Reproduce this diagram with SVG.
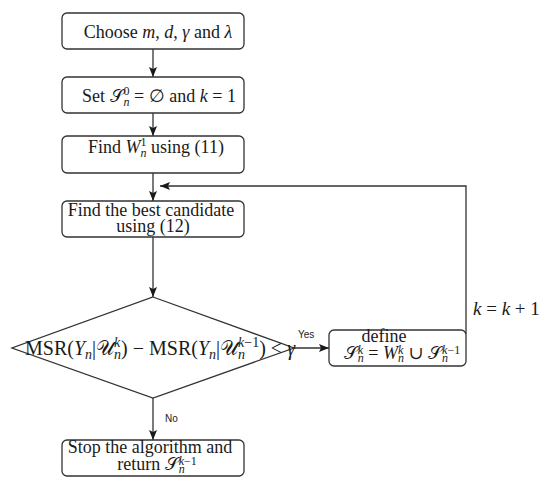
<svg xmlns="http://www.w3.org/2000/svg" width="550" height="487" viewBox="0 0 550 487">
<style>
.t{font-family:"Liberation Serif","DejaVu Serif",serif;font-size:18px;fill:#1a1a1a;text-anchor:middle}
.i{font-style:italic}
.s{font-size:12px}
.s2{font-size:14px}
.scr{font-family:"DejaVu Serif","DejaVu Sans","Noto Sans",serif;font-style:normal}
.lbl{font-family:"Liberation Sans",Arial,sans-serif;font-size:10px;fill:#1a1a1a}
.box{fill:#fff;stroke:#333;stroke-width:1.3}
.edge{fill:none;stroke:#333;stroke-width:1.3;marker-end:url(#ah)}
</style>
<defs>
<marker id="ah" markerWidth="10" markerHeight="8" refX="10" refY="4" orient="auto" markerUnits="userSpaceOnUse">
<path d="M0,0 L10,4 L0,8 L2,4 z" fill="#1a1a1a"/>
</marker>
</defs>
<g id="connectors">
<path class="edge" d="M153,49 L153,77"/>
<path class="edge" d="M153,113 L153,136"/>
<path class="edge" d="M153,173 L153,201"/>
<path class="edge" d="M153,237 L153,297"/>
<path class="edge" d="M294,348 L329,348"/>
<path class="edge" d="M153,398 L153,440"/>
<path class="edge" d="M466,334 L466,186 L160,186"/>
<text class="lbl" x="298" y="338">Yes</text>
<text class="lbl" x="165" y="422">No</text>
<text class="t" x="473" y="315" style="font-size:19px;text-anchor:start"><tspan class="i">k</tspan> = <tspan class="i">k</tspan> + 1</text>
</g>
<g id="choose">
<rect class="box" x="62" y="13" width="182" height="36" rx="5"/>
<text class="t" x="158" y="38">Choose <tspan class="i">m</tspan>, <tspan class="i">d</tspan>, <tspan class="i">γ</tspan> and <tspan class="i">λ</tspan></text>
</g>
<g id="set">
<rect class="box" x="62" y="77" width="182" height="36" rx="5"/>
<text class="t" x="159" y="102">Set <tspan class="scr">𝒮</tspan><tspan class="s" dy="-7">0</tspan><tspan class="s i" dx="-6" dy="11">n</tspan><tspan dy="-4"> = ∅ and </tspan><tspan class="i">k</tspan> = 1</text>
</g>
<g id="find1">
<rect class="box" x="62" y="136" width="182" height="37" rx="5"/>
<text class="t" x="156" y="153">Find <tspan class="i">W</tspan><tspan class="s" dy="-7">1</tspan><tspan class="s i" dx="-6" dy="11">n</tspan><tspan dy="-4"> using (11)</tspan></text>
</g>
<g id="best">
<rect class="box" x="62" y="201" width="182" height="36" rx="5"/>
<text class="t" x="151" y="216">Find the best candidate</text>
<text class="t" x="153" y="232">using (12)</text>
</g>
<g id="decision">
<path class="box" d="M153,297 L294,348 L153,398 L12,348 Z"/>
<text class="t" x="160" y="355" style="font-size:20px">MSR(<tspan class="i">Y</tspan><tspan class="s2 i" dy="4">n</tspan><tspan dy="-4">|</tspan><tspan class="scr">𝒰</tspan><tspan class="s2 i" dy="-8">k</tspan><tspan class="s2 i" dx="-6.2" dy="12">n</tspan><tspan dy="-4">) − MSR(</tspan><tspan class="i">Y</tspan><tspan class="s2 i" dy="4">n</tspan><tspan dy="-4">|</tspan><tspan class="scr">𝒰</tspan><tspan class="s2" dy="-8"><tspan class="i">k</tspan>−1</tspan><tspan class="s2 i" dx="-21.1" dy="12">n</tspan><tspan dx="14.1" dy="-4">) &lt; </tspan><tspan class="i">γ</tspan></text>
</g>
<g id="define">
<rect class="box" x="329" y="330" width="137" height="36" rx="5"/>
<text class="t" x="384" y="342">define</text>
<text class="t" x="402" y="359"><tspan class="scr">𝒮</tspan><tspan class="s i" dy="-5">k</tspan><tspan class="s i" dx="-5.3" dy="8">n</tspan><tspan dy="-3"> = </tspan><tspan class="i">W</tspan><tspan class="s i" dy="-5">k</tspan><tspan class="s i" dx="-5.3" dy="8">n</tspan><tspan dy="-3"> ∪ </tspan><tspan class="scr">𝒮</tspan><tspan class="s" dy="-5"><tspan class="i">k</tspan>−1</tspan><tspan class="s i" dx="-18.1" dy="8">n</tspan></text>
</g>
<g id="stop">
<rect class="box" x="62" y="440" width="182" height="36" rx="5"/>
<text class="t" x="150" y="453">Stop the algorithm and</text>
<text class="t" x="157" y="470">return <tspan class="scr">𝒮</tspan><tspan class="s" dy="-5"><tspan class="i">k</tspan>−1</tspan><tspan class="s i" dx="-18.1" dy="8">n</tspan></text>
</g>
</svg>
